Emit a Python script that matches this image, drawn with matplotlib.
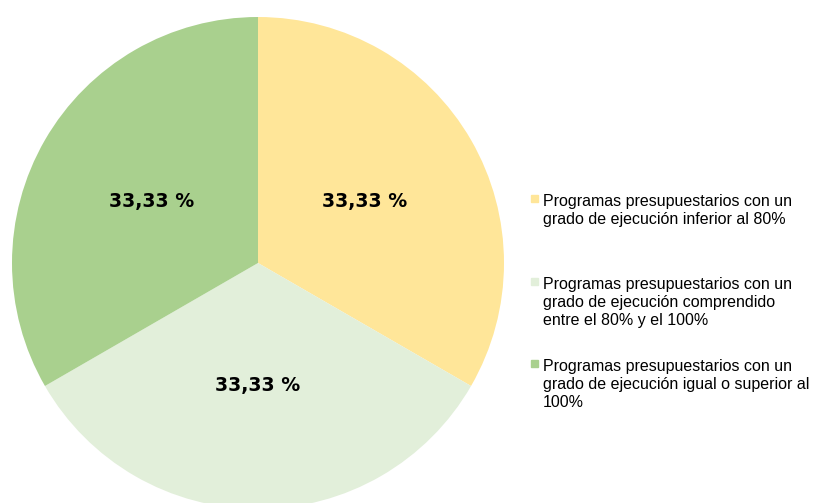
import matplotlib.pyplot as plt
from matplotlib.patches import Rectangle

# share of budget programmes by execution level
labels = [
    'Programas presupuestarios con un\ngrado de ejecución inferior al 80%',
    'Programas presupuestarios con un\ngrado de ejecución comprendido\nentre el 80% y el 100%',
    'Programas presupuestarios con un\ngrado de ejecución igual o superior al\n100%',
]
values = [33.33, 33.33, 33.33]
colors = ['#FFE699', '#E2EFDA', '#A9D08E']

W, H = 816, 503
fig = plt.figure(figsize=(W / 100, H / 100), dpi=100)

# pie axes placed in pixel terms: centre (258, 262), radius 246
cx, cy, r = 258, 263, 246
ax = fig.add_axes([(cx - r) / W, (H - cy - r) / H, 2 * r / W, 2 * r / H])
pctLabels = [('%.2f %%' % v).replace('.', ',') for v in values]
wedges, texts = ax.pie(values, colors=colors, startangle=90, counterclock=False,
                       labels=pctLabels, labeldistance=0.5, radius=1,
                       textprops=dict(fontsize=13.6, fontweight='bold',
                                      family='DejaVu Sans'))
for t in texts:
    t.set_ha('center')
    t.set_va('center')
ax.set_xlim(-1, 1)
ax.set_ylim(-1, 1)
ax.set_aspect('equal')
ax.axis('off')

# legend drawn by hand so the marker sits on the first line
tops = [194, 277, 359]
for top, lab, col in zip(tops, labels, colors):
    fig.patches.append(Rectangle((531 / W, 1 - (top + 8) / H), 7 / W, 7 / H,
                                 transform=fig.transFigure, color=col))
    fig.text(543 / W, 1 - top / H, lab, ha='left', va='top',
             fontsize=11.5, family='Liberation Sans', linespacing=1.25)

fig.savefig('out.png', dpi=100)
